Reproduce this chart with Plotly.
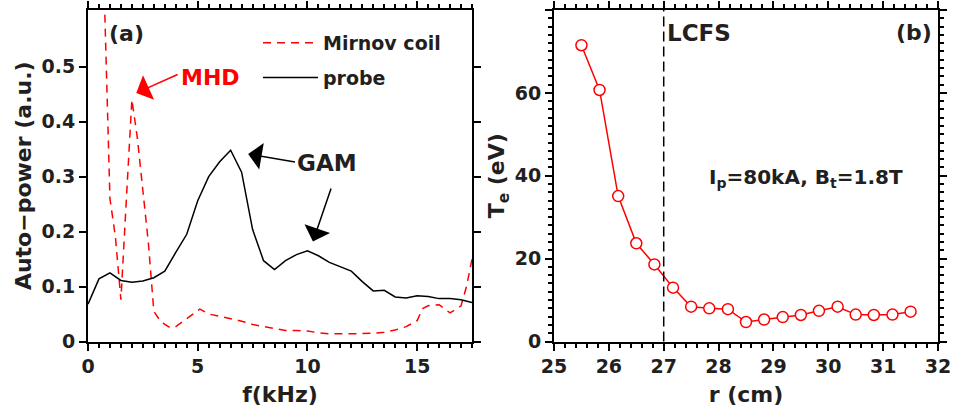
import plotly.graph_objects as go

# ---- data ----
probe_f = [0, 0.5, 1, 1.5, 2, 2.5, 3, 3.5, 4, 4.5, 5, 5.5, 6, 6.5, 7, 7.5, 8, 8.5,
           9, 9.5, 10, 10.5, 11, 11.5, 12, 12.5, 13, 13.5, 14, 14.5, 15, 15.5, 16,
           16.5, 17, 17.5]
probe_p = [0.068, 0.114, 0.125, 0.111, 0.108, 0.110, 0.116, 0.128, 0.162, 0.195,
           0.256, 0.300, 0.327, 0.348, 0.308, 0.204, 0.147, 0.131, 0.147, 0.158,
           0.165, 0.156, 0.144, 0.136, 0.128, 0.109, 0.092, 0.093, 0.081, 0.079,
           0.083, 0.082, 0.078, 0.078, 0.076, 0.071]

mirnov_f = [0.75, 1.0, 1.25, 1.5, 1.75, 2.0, 2.25, 2.5, 2.75, 3.0, 3.25, 3.5, 3.75,
            4.0, 4.5, 5.1, 5.5, 6.0, 6.5, 7.0, 7.5, 8.0, 8.5, 9.0, 9.5, 10.0, 10.5,
            11.0, 12.0, 13.0, 13.5, 14.0, 14.5, 15.0, 15.25, 15.5, 16.0, 16.5, 17.0,
            17.25, 17.5]
mirnov_p = [0.62, 0.26, 0.19, 0.076, 0.26, 0.44, 0.37, 0.28, 0.18, 0.055, 0.040,
            0.031, 0.025, 0.027, 0.042, 0.059, 0.050, 0.046, 0.042, 0.037, 0.031,
            0.027, 0.023, 0.020, 0.020, 0.019, 0.016, 0.014, 0.014, 0.015, 0.017,
            0.021, 0.027, 0.038, 0.060, 0.065, 0.067, 0.052, 0.065, 0.100, 0.150]

r_cm = [25.5, 25.83, 26.17, 26.5, 26.83, 27.17, 27.5, 27.83, 28.17, 28.5, 28.83,
        29.17, 29.5, 29.83, 30.17, 30.5, 30.83, 31.17, 31.5]
te_ev = [71.5, 60.7, 35.1, 23.7, 18.6, 13.0, 8.4, 8.0, 7.8, 4.7, 5.3, 5.9, 6.4,
         7.4, 8.4, 6.5, 6.4, 6.5, 7.2]

lcfs_r = 27.0

FONT = "DejaVu Sans"
TXT = "#231f20"

fig = go.Figure()
fig.add_trace(go.Scatter(x=mirnov_f, y=mirnov_p, mode="lines", name="Mirnov coil",
                         line=dict(color="#ff0000", width=1.5, dash="8px,6px"),
                         xaxis="x", yaxis="y", legendgroup="a"))
fig.add_trace(go.Scatter(x=probe_f, y=probe_p, mode="lines", name="probe",
                         line=dict(color="black", width=1.5),
                         xaxis="x", yaxis="y", legendgroup="b"))
fig.add_trace(go.Scatter(x=r_cm, y=te_ev, mode="lines+markers", showlegend=False,
                         line=dict(color="#ff0000", width=1.5),
                         marker=dict(symbol="circle", size=11, color="white",
                                     line=dict(color="#ff0000", width=1.5)),
                         xaxis="x2", yaxis="y2"))

ydom = [1 - 341.5 / 414, 1 - 10 / 414]
axcommon = dict(showline=True, linecolor="black", linewidth=2, mirror="ticks",
                ticks="outside", tickcolor="black", tickwidth=1.5, ticklen=7,
                showgrid=False, zeroline=False, automargin=False,
                tickfont=dict(family=FONT, size=19, color=TXT, weight="bold"),
                title_font=dict(family=FONT, size=22, color=TXT, weight="bold"))

fig.update_layout(
    width=953, height=414, margin=dict(l=0, r=0, t=0, b=0),
    paper_bgcolor="white", plot_bgcolor="white",
    font=dict(family=FONT, color=TXT, weight="bold"),
    xaxis=dict(domain=[88 / 953, 472 / 953], range=[0, 17.5], tickvals=[0, 5, 10, 15],
               minor=dict(dtick=0.5, ticks="outside", ticklen=4, tickcolor="black", tickwidth=1.5),
               title=dict(text="f(kHz)", standoff=10), anchor="y", **axcommon),
    yaxis=dict(domain=ydom, range=[0, 0.603], tickvals=[0, 0.1, 0.2, 0.3, 0.4, 0.5],
               ticktext=["0", "0.1", "0.2", "0.3", "0.4", "0.5"],
               title=dict(text="Auto−power (a.u.)", standoff=4), anchor="x", **axcommon),
    xaxis2=dict(domain=[554 / 953, 938 / 953], range=[25, 32], dtick=1,
                minor=dict(dtick=0.2, ticks="outside", ticklen=4, tickcolor="black", tickwidth=1.5),
                title=dict(text="r (cm)", standoff=10), anchor="y2", **axcommon),
    yaxis2=dict(domain=ydom, range=[0, 80], dtick=20,
                minor=dict(dtick=2, ticks="outside", ticklen=4, tickcolor="black", tickwidth=1.5),
                title=dict(text="T<sub>e</sub> (eV)", standoff=4), anchor="x2", **axcommon),
    legend=dict(x=258 / 953, y=1 - 24 / 414, xanchor="left", yanchor="top",
                bgcolor="rgba(0,0,0,0)", traceorder="grouped", tracegroupgap=7,
                itemwidth=55,
                font=dict(family=FONT, size=19, color=TXT, weight="bold")),
    showlegend=True,
)

fig.add_shape(type="line", xref="x2", yref="y2 domain", x0=lcfs_r, x1=lcfs_r, y0=0, y1=1,
              line=dict(color="black", width=1.5, dash="10px,5px"))

ann = []
# panel (a)
ann.append(dict(xref="x", yref="y", x=1.77, y=0.561, text="(a)", showarrow=False,
                font=dict(family=FONT, size=22, color=TXT, weight="bold")))
ann.append(dict(xref="x", yref="y", x=5.6, y=0.481, text="MHD", showarrow=False,
                font=dict(family=FONT, size=22, color="#ff0000", weight="bold")))
ann.append(dict(xref="x", yref="y", x=2.2, y=0.452, axref="x", ayref="y", ax=4.15, ay=0.487,
                text="", showarrow=True, arrowhead=1, arrowsize=3, arrowwidth=1.5,
                arrowcolor="#ff0000"))
ann.append(dict(xref="x", yref="y", x=10.9, y=0.325, text="GAM", showarrow=False,
                font=dict(family=FONT, size=23, color=TXT, weight="bold")))
ann.append(dict(xref="x", yref="y", x=7.3, y=0.341, axref="x", ayref="y", ax=9.5, ay=0.326,
                text="", showarrow=True, arrowhead=1, arrowsize=3, arrowwidth=1.5,
                arrowcolor="black"))
ann.append(dict(xref="x", yref="y", x=10.25, y=0.182, axref="x", ayref="y", ax=11.1, ay=0.281,
                text="", showarrow=True, arrowhead=1, arrowsize=3, arrowwidth=1.5,
                arrowcolor="black"))
# panel (b)
ann.append(dict(xref="x2", yref="y2", x=27.02, y=74.5, xanchor="left", text="LCFS",
                showarrow=False, font=dict(family=FONT, size=23, color=TXT, weight="bold")))
ann.append(dict(xref="x2", yref="y2", x=31.92, y=74.5, xanchor="right", text="(b)",
                showarrow=False, font=dict(family=FONT, size=22, color=TXT, weight="bold")))
ann.append(dict(xref="x2", yref="y2", x=27.79, y=39.5, xanchor="left",
                text="I<sub>p</sub>=80kA, B<sub>t</sub>=1.8T",
                showarrow=False, font=dict(family=FONT, size=20, color=TXT, weight="bold")))
fig.update_layout(annotations=ann)

fig.write_html("out.html")
